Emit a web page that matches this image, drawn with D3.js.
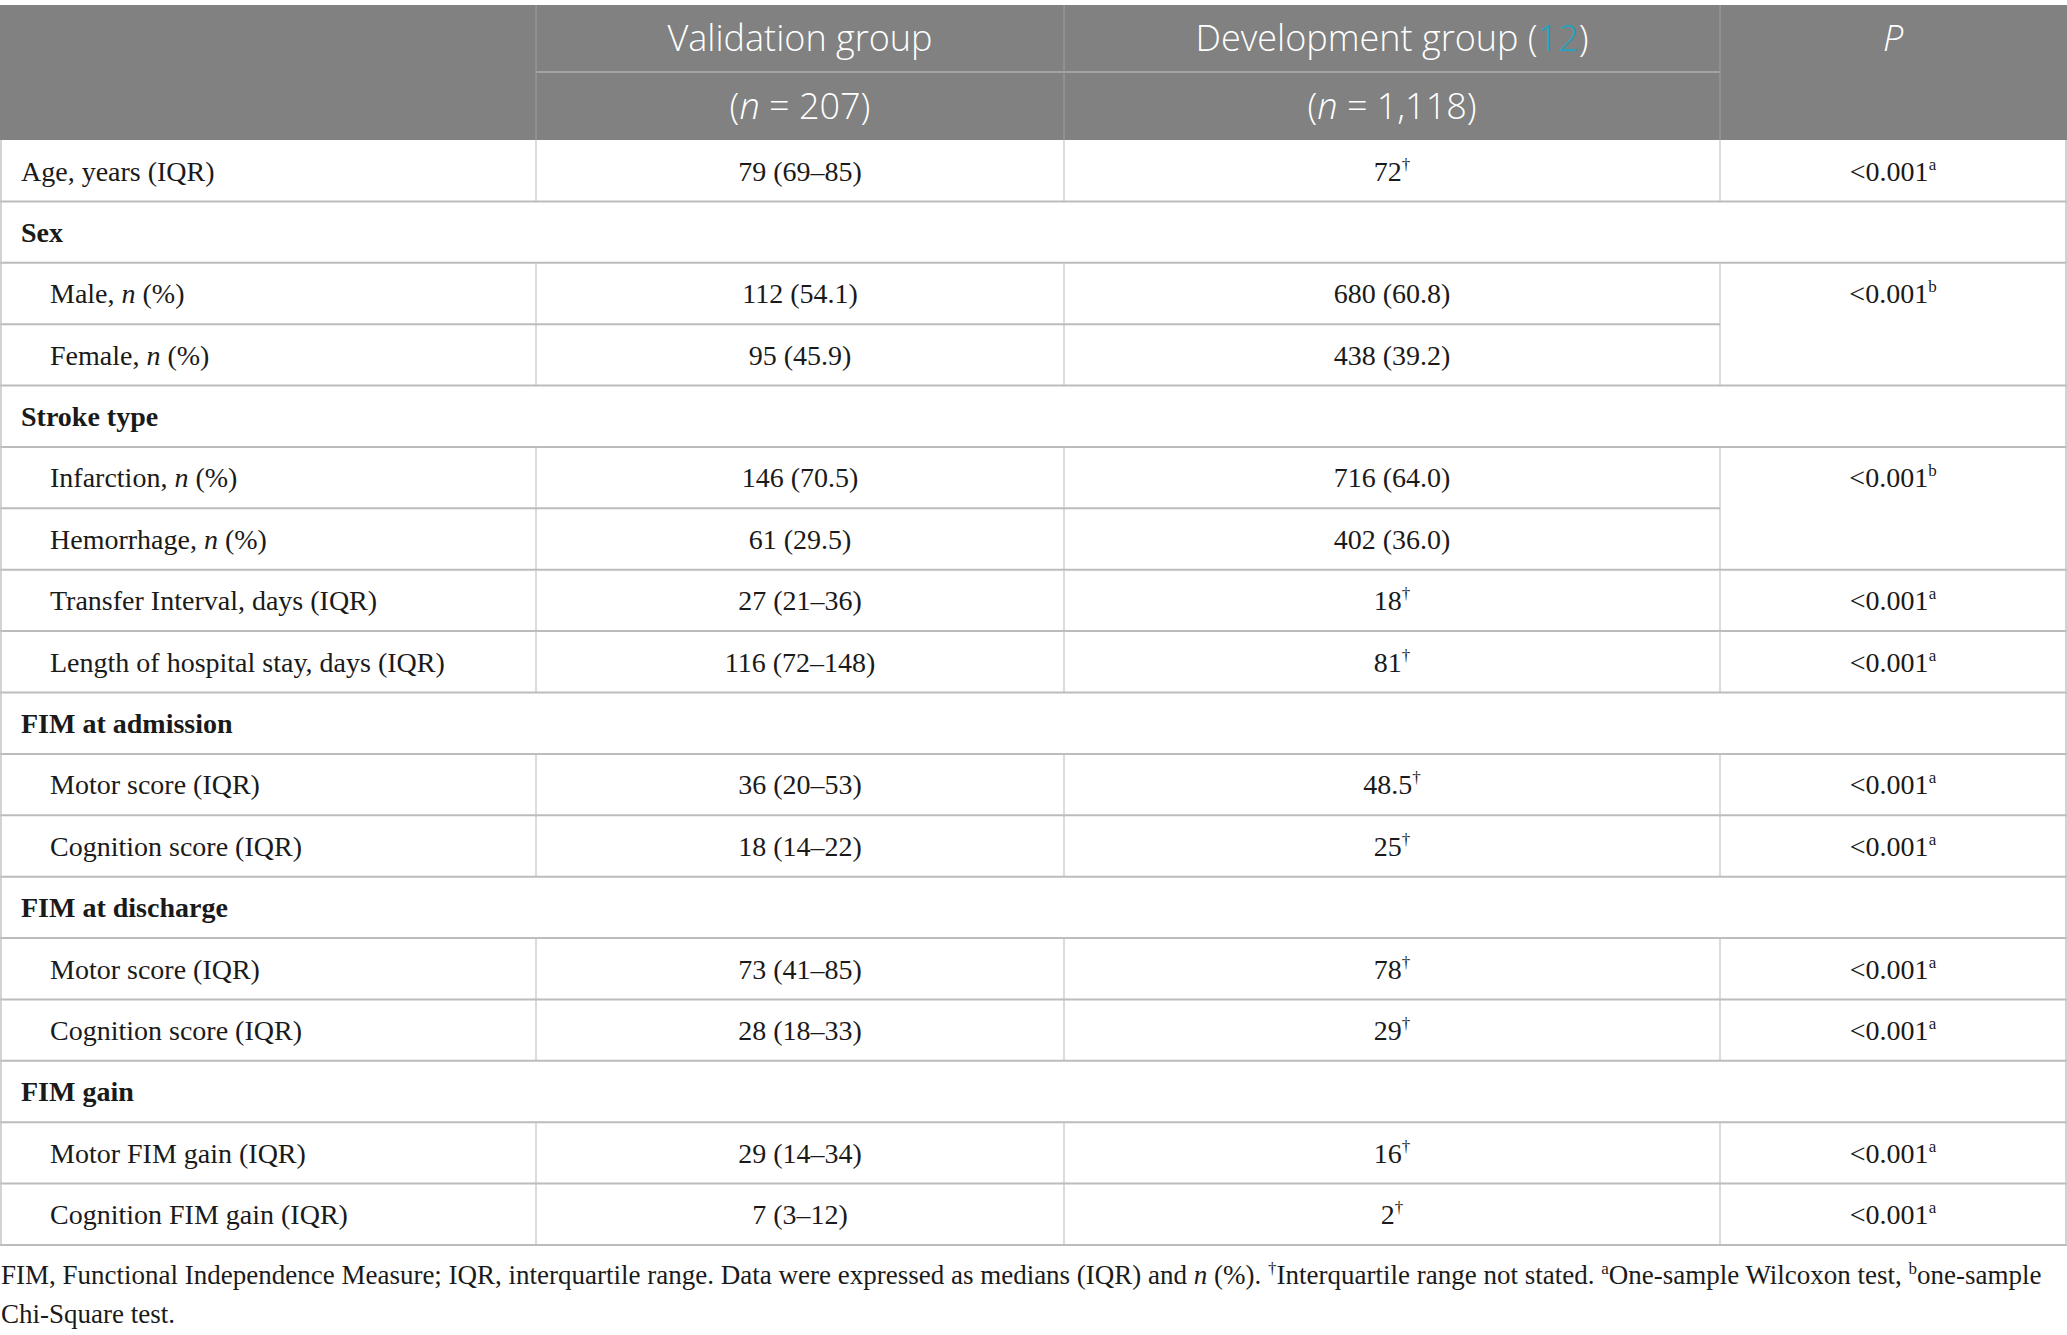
<!DOCTYPE html>
<html>
<head>
<meta charset="utf-8">
<script src="https://cdn.jsdelivr.net/npm/d3@7"></script>
<style>
  body { margin: 0; background: #ffffff; }
  svg { display: block; }
</style>
</head>
<body>
<div id="table"></div>
<script>
/**
 * Table contents
 * markup: *x* = italic, ^x^ = superscript, [x] = link colour
 */
const headerGroups = ["Validation group", "Development group ([12])", "*P*"];
const headerCounts = ["(*n* = 207)", "(*n* = 1,118)"];

const rowLabels = [
  "Age, years (IQR)",
  "Sex",
  "Male, *n* (%)",
  "Female, *n* (%)",
  "Stroke type",
  "Infarction, *n* (%)",
  "Hemorrhage, *n* (%)",
  "Transfer Interval, days (IQR)",
  "Length of hospital stay, days (IQR)",
  "FIM at admission",
  "Motor score (IQR)",
  "Cognition score (IQR)",
  "FIM at discharge",
  "Motor score (IQR)",
  "Cognition score (IQR)",
  "FIM gain",
  "Motor FIM gain (IQR)",
  "Cognition FIM gain (IQR)"
];
const rowKind = [
  "item", "section", "sub", "sub", "section", "sub", "sub", "sub", "sub",
  "section", "sub", "sub", "section", "sub", "sub", "section", "sub", "sub"
];
const validationValues = [
  "79 (69–85)", "", "112 (54.1)", "95 (45.9)", "", "146 (70.5)", "61 (29.5)",
  "27 (21–36)", "116 (72–148)", "", "36 (20–53)", "18 (14–22)", "",
  "73 (41–85)", "28 (18–33)", "", "29 (14–34)", "7 (3–12)"
];
const developmentValues = [
  "72^†^", "", "680 (60.8)", "438 (39.2)", "", "716 (64.0)", "402 (36.0)",
  "18^†^", "81^†^", "", "48.5^†^", "25^†^", "", "78^†^", "29^†^", "",
  "16^†^", "2^†^"
];
// null = merged with the cell above
const pValues = [
  "<0.001^a^", "", "<0.001^b^", null, "", "<0.001^b^", null,
  "<0.001^a^", "<0.001^a^", "", "<0.001^a^", "<0.001^a^", "",
  "<0.001^a^", "<0.001^a^", "", "<0.001^a^", "<0.001^a^"
];
const footnoteLines = [
  "FIM, Functional Independence Measure; IQR, interquartile range. Data were expressed as medians (IQR) and *n* (%). ^†^Interquartile range not stated. ^a^One-sample Wilcoxon test, ^b^one-sample",
  "Chi-Square test."
];

/**
 * Globals
 */
const W = 2067, H = 1335;
const colEdges = [1, 536, 1064, 1720, 2066];
const headTop = 5, headMid = 72, headBottom = 140, bodyBottom = 1245;
const serif = "'Liberation Serif', 'Times New Roman', serif";
const sans = "'Open Sans', 'Noto Sans', sans-serif";

const scale = {
  row: d3.scaleBand().domain(d3.range(rowLabels.length)).range([headBottom, bodyBottom]),
  col: d3.scaleOrdinal().domain([0, 1, 2, 3]).range([0, 1, 2, 3].map(i => (colEdges[i] + colEdges[i + 1]) / 2))
};

const svg = d3.select("#table").append("svg")
  .attr("width", W)
  .attr("height", H);

/**
 * Write a string with the small markup into a text element
 * @param {Number} fs ... font size of the parent text, px
 */
function richText(sel, str, fs) {
  const parts = str.split(/(\*[^*]+\*|\^[^^]+\^|\[[^\]]+\])/).filter(s => s !== "");
  const rise = Math.round(fs * 0.38);
  let shifted = false;
  parts.forEach(function (p) {
    const t = sel.append("tspan");
    if (shifted) { t.attr("dy", rise); shifted = false; }
    if (p[0] === "*") {
      t.style("font-style", "italic").text(p.slice(1, -1));
    } else if (p[0] === "^") {
      t.attr("dy", -rise).style("font-size", Math.round(fs * 0.62) + "px").text(p.slice(1, -1));
      shifted = true;
    } else if (p[0] === "[") {
      t.attr("fill", "#1fa4c2").text(p.slice(1, -1));
    } else {
      t.text(p);
    }
  });
}

/**
 * Header
 */
const head = svg.append("g").attr("class", "head");
head.append("rect")
  .attr("x", 0).attr("y", headTop)
  .attr("width", W).attr("height", headBottom - headTop)
  .attr("fill", "#808180");

// header inner lines
head.append("line")
  .attr("x1", colEdges[1]).attr("x2", colEdges[3])
  .attr("y1", headMid).attr("y2", headMid)
  .attr("stroke", "#a3a3a3").attr("stroke-width", 2);
[1, 2, 3].forEach(function (i) {
  head.append("line")
    .attr("x1", colEdges[i]).attr("x2", colEdges[i])
    .attr("y1", headTop).attr("y2", headBottom)
    .attr("stroke", "#9c9c9c").attr("stroke-width", 1.2);
});

const headFs = 36;
headerGroups.forEach(function (h, i) {
  head.append("text")
    .attr("x", scale.col(i + 1))
    .attr("y", (headTop + headMid) / 2)
    .attr("dy", "0.36em")
    .attr("text-anchor", "middle")
    .attr("fill", "#ffffff")
    .style("font-family", sans)
    .style("font-weight", 300)
    .style("font-size", headFs + "px")
    .call(richText, h, headFs);
});
headerCounts.forEach(function (h, i) {
  head.append("text")
    .attr("x", scale.col(i + 1))
    .attr("y", (headMid + headBottom) / 2)
    .attr("dy", "0.36em")
    .attr("text-anchor", "middle")
    .attr("fill", "#ffffff")
    .style("font-family", sans)
    .style("font-weight", 300)
    .style("font-size", headFs + "px")
    .call(richText, h, headFs);
});

/**
 * Body grid
 */
const grid = svg.append("g").attr("class", "grid");
const bw = scale.row.bandwidth();

rowLabels.forEach(function (lbl, i) {
  const y0 = scale.row(i), y1 = y0 + bw;
  const isSection = rowKind[i] === "section";
  // vertical separators
  if (!isSection) {
    [1, 2, 3].forEach(function (c) {
      grid.append("line")
        .attr("x1", colEdges[c]).attr("x2", colEdges[c])
        .attr("y1", y0).attr("y2", y1)
        .attr("stroke", "#c4c4c4").attr("stroke-width", 1.2);
    });
  }
  // bottom rule (skip P column when merged below)
  const mergedBelow = i + 1 < rowLabels.length && pValues[i + 1] === null;
  grid.append("line")
    .attr("x1", 0).attr("x2", mergedBelow ? colEdges[3] : W)
    .attr("y1", y1).attr("y2", y1)
    .attr("stroke", "#bcbcbc").attr("stroke-width", 2);
});
// outer left/right borders
[colEdges[0], colEdges[4]].forEach(function (x) {
  grid.append("line")
    .attr("x1", x).attr("x2", x)
    .attr("y1", headBottom).attr("y2", bodyBottom)
    .attr("stroke", "#c4c4c4").attr("stroke-width", 1.5);
});

/**
 * Body text
 */
const bodyFs = 28;
const body = svg.append("g").attr("class", "body")
  .style("font-family", serif)
  .style("font-size", bodyFs + "px")
  .attr("fill", "#1a1a1a");

const rows = body.selectAll(".row")
  .data(d3.range(rowLabels.length))
  .join("g")
  .attr("class", "row")
  .attr("transform", i => "translate(0," + (scale.row(i) + bw / 2) + ")");

rows.append("text")
  .attr("x", i => rowKind[i] === "sub" ? 50 : 21)
  .attr("dy", "0.35em")
  .style("font-weight", i => rowKind[i] === "section" ? "bold" : null)
  .each(function (i) { d3.select(this).call(richText, rowLabels[i], bodyFs); });

[validationValues, developmentValues, pValues].forEach(function (vals, c) {
  rows.filter(i => vals[i])
    .append("text")
    .attr("x", scale.col(c + 1))
    .attr("dy", "0.35em")
    .attr("text-anchor", "middle")
    .each(function (i) { d3.select(this).call(richText, vals[i], bodyFs); });
});

/**
 * Footnote
 */
const footFs = 27;
const foot = svg.append("g").attr("class", "foot")
  .style("font-family", serif)
  .style("font-size", footFs + "px")
  .attr("fill", "#1a1a1a");
footnoteLines.forEach(function (line, i) {
  foot.append("text")
    .attr("x", 1)
    .attr("y", 1275 + i * 39)
    .attr("dy", "0.35em")
    .call(richText, line, footFs);
});
</script>
</body>
</html>
